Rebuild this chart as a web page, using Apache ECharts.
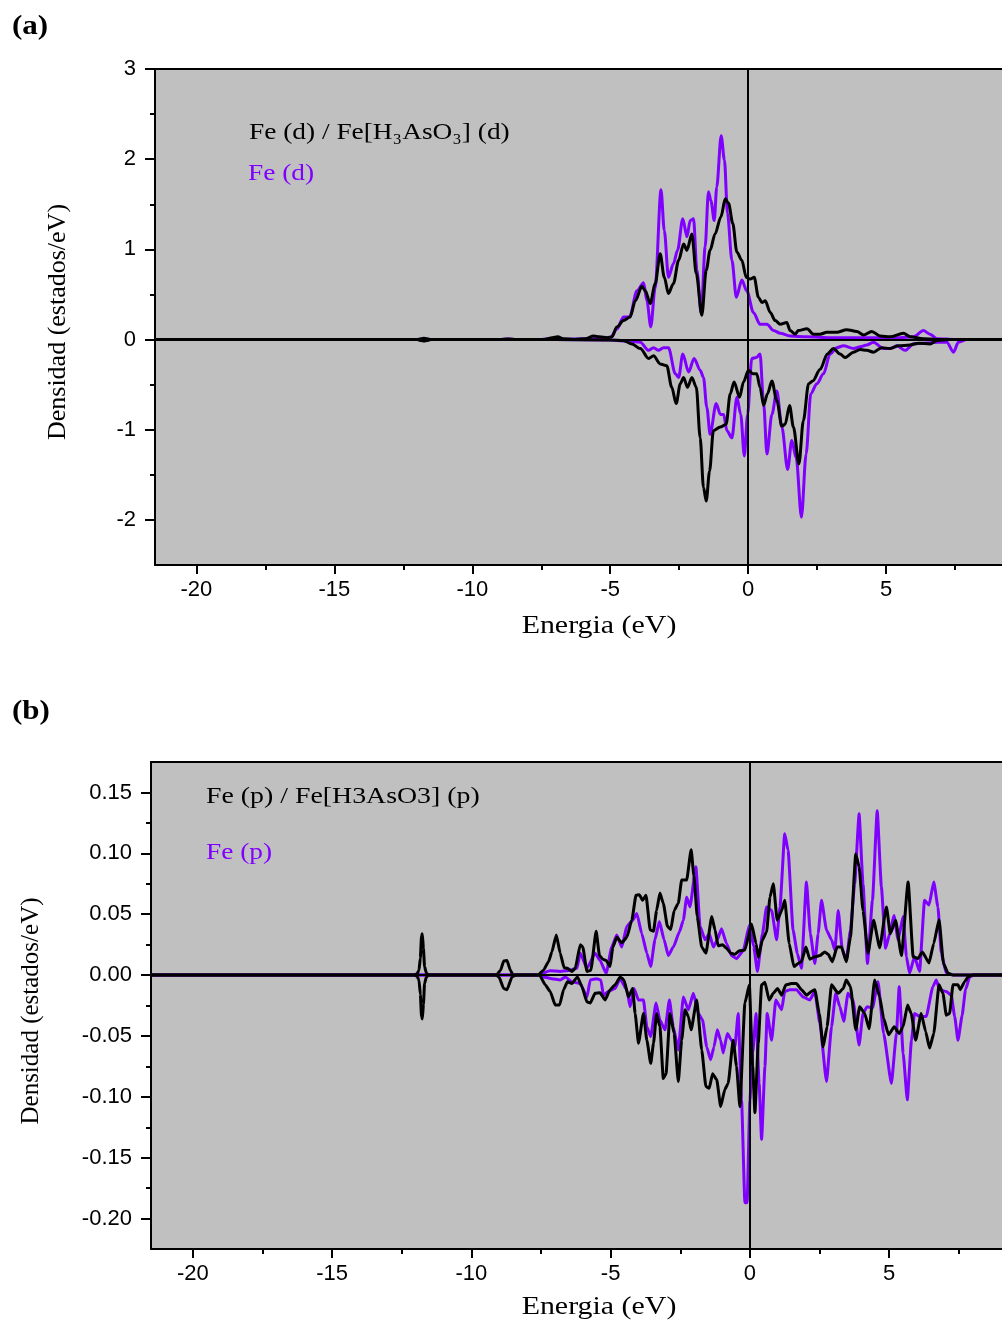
<!DOCTYPE html>
<html>
<head>
<meta charset="utf-8">
<script src="https://cdn.jsdelivr.net/npm/echarts@6/dist/echarts.min.js"></script>
<style>
html,body{margin:0;padding:0;background:#fff;}
#chart{width:1002px;height:1324px;}
</style>
</head>
<body>
<div id="chart"></div>
<script>
// ---------- Tick values ----------
const aXTicks = [-20, -15, -10, -5, 0, 5];
const aXMinor = [-17.5, -12.5, -7.5, -2.5, 2.5, 7.5];
const aYTicks = [-2, -1, 0, 1, 2, 3];
const aYMinor = [-1.5, -0.5, 0.5, 1.5, 2.5];
const bXTicks = [-20, -15, -10, -5, 0, 5];
const bXMinor = [-17.5, -12.5, -7.5, -2.5, 2.5, 7.5];
const bYTicks = [-0.2, -0.15, -0.1, -0.05, 0, 0.05, 0.1, 0.15];
const bYMinor = [-0.175, -0.125, -0.075, -0.025, 0.025, 0.075, 0.125];

// ---------- Panel (a): d states [E (eV), DOS] ----------
const aFeUp = [[-21.5,0],[-12,0],[-11.8,0.005],[-11.7,0.005],[-11.5,0],[-9,0],[-8.7,0.005],[-8.4,0],[-7.5,0],[-7.1,0.01],[-6.8,0],[-5.8,0.01],[-5.5,0.01],[-5.0,0.02],[-4.75,0.12],[-4.52,0.25],[-4.3,0.25],[-4.03,0.54],[-3.79,0.63],[-3.67,0.43],[-3.53,0.14],[-3.37,0.58],[-3.16,1.66],[-3.04,1.21],[-2.89,0.69],[-2.71,0.84],[-2.56,0.99],[-2.37,1.34],[-2.22,1.14],[-2.10,1.32],[-1.98,1.34],[-1.86,0.77],[-1.70,0.29],[-1.56,1.03],[-1.44,1.64],[-1.35,1.54],[-1.23,1.32],[-1.14,1.69],[-0.98,2.26],[-0.86,1.99],[-0.75,1.40],[-0.59,0.88],[-0.43,0.47],[-0.23,0.66],[-0.05,0.54],[0.19,0.30],[0.43,0.17],[0.68,0.17],[0.92,0.10],[1.16,0.07],[1.52,0.04],[2.13,0.03],[3,0.02],[4.5,0.02],[5.5,0.02],[6.0,0.03],[6.35,0.10],[6.59,0.06],[6.84,0.01],[7.5,0],[9.2,0]];
const aFeDown = [[-21.5,0],[-7,0],[-5,-0.005],[-4.28,-0.02],[-3.91,-0.03],[-3.61,-0.12],[-3.43,-0.09],[-3.25,-0.12],[-3.07,-0.09],[-2.89,-0.09],[-2.64,-0.38],[-2.52,-0.42],[-2.37,-0.16],[-2.16,-0.36],[-1.96,-0.21],[-1.74,-0.34],[-1.62,-0.42],[-1.50,-0.75],[-1.38,-1.05],[-1.16,-0.71],[-1.01,-0.83],[-0.89,-0.83],[-0.77,-1.01],[-0.59,-1.09],[-0.41,-0.64],[-0.27,-0.83],[-0.14,-1.29],[-0.02,-0.83],[0.13,-0.21],[0.29,-0.20],[0.43,-0.16],[0.56,-0.71],[0.68,-1.27],[0.86,-0.83],[1.04,-0.57],[1.22,-0.97],[1.43,-1.44],[1.58,-1.12],[1.74,-1.31],[1.93,-1.97],[2.10,-1.27],[2.27,-0.60],[2.49,-0.49],[2.73,-0.38],[2.97,-0.16],[3.21,-0.09],[3.45,-0.07],[3.82,-0.10],[4.06,-0.08],[4.30,-0.06],[4.54,-0.03],[4.90,-0.10],[5.14,-0.10],[5.39,-0.07],[5.69,-0.12],[5.99,-0.05],[6.35,-0.04],[6.84,-0.03],[7.20,-0.03],[7.44,-0.14],[7.62,-0.03],[7.92,0],[9.2,0]];
const aMolUp = [[-21.5,0],[-12,0],[-11.85,0.01],[-11.75,0.015],[-11.65,0.01],[-11.5,0],[-9,0],[-8.7,0.005],[-8.4,0],[-7.4,0],[-7.1,0.02],[-6.9,0.03],[-6.7,0.01],[-6.3,0],[-5.9,0.01],[-5.6,0.04],[-5.4,0.03],[-5.1,0.02],[-4.94,0.03],[-4.76,0.14],[-4.52,0.21],[-4.28,0.25],[-4.09,0.43],[-3.85,0.59],[-3.73,0.54],[-3.55,0.40],[-3.37,0.62],[-3.19,0.95],[-3.04,0.69],[-2.89,0.51],[-2.71,0.62],[-2.52,0.88],[-2.34,1.06],[-2.22,0.99],[-2.04,1.17],[-1.88,0.73],[-1.68,0.27],[-1.52,0.77],[-1.38,0.99],[-1.20,1.17],[-0.99,1.36],[-0.83,1.56],[-0.71,1.51],[-0.56,1.29],[-0.41,0.97],[-0.23,0.88],[-0.07,0.69],[0.07,0.67],[0.22,0.69],[0.37,0.47],[0.50,0.41],[0.62,0.43],[0.80,0.30],[0.98,0.21],[1.16,0.17],[1.40,0.19],[1.52,0.10],[1.70,0.06],[1.82,0.10],[2.13,0.12],[2.37,0.06],[2.61,0.06],[2.85,0.08],[3.21,0.08],[3.57,0.11],[3.94,0.09],[4.18,0.05],[4.48,0.09],[4.78,0.04],[5.14,0.03],[5.63,0.07],[5.87,0.03],[6.35,0.01],[6.8,0],[9.2,0]];
const aMolDown = [[-21.5,0],[-12,0],[-11.85,-0.01],[-11.75,-0.015],[-11.65,-0.01],[-11.5,0],[-7,0],[-5,-0.005],[-4.52,-0.01],[-4.21,-0.05],[-3.91,-0.10],[-3.61,-0.21],[-3.43,-0.18],[-3.19,-0.27],[-2.95,-0.29],[-2.77,-0.53],[-2.61,-0.71],[-2.46,-0.49],[-2.34,-0.42],[-2.20,-0.53],[-2.04,-0.42],[-1.88,-0.53],[-1.74,-1.09],[-1.62,-1.64],[-1.52,-1.79],[-1.40,-1.46],[-1.26,-1.01],[-1.01,-0.97],[-0.80,-0.94],[-0.65,-0.60],[-0.51,-0.47],[-0.31,-0.64],[-0.17,-0.47],[0.01,-0.34],[0.17,-0.38],[0.31,-0.38],[0.43,-0.53],[0.56,-0.73],[0.70,-0.60],[0.86,-0.46],[1.04,-0.68],[1.22,-0.96],[1.34,-0.94],[1.50,-0.73],[1.64,-0.97],[1.84,-1.38],[2.00,-0.90],[2.19,-0.49],[2.34,-0.46],[2.61,-0.33],[2.87,-0.16],[3.09,-0.10],[3.33,-0.16],[3.51,-0.20],[3.82,-0.14],[4.06,-0.11],[4.30,-0.12],[4.54,-0.14],[4.84,-0.09],[5.14,-0.10],[5.45,-0.07],[5.87,-0.06],[6.17,-0.04],[6.59,-0.05],[6.84,-0.01],[7.3,0],[9.2,0]];

// ---------- Panel (b): p states [E (eV), DOS] ----------
const bFeUp = [[-21.5,0],[-7.6,0],[-7.53,0.001],[-7.17,0.0035],[-6.81,0.003],[-6.57,0.0035],[-6.21,0.0055],[-6.09,0.018],[-5.85,0.0055],[-5.56,0.018],[-5.38,0.012],[-5.16,0.0015],[-4.96,0.023],[-4.78,0.033],[-4.60,0.023],[-4.42,0.040],[-4.21,0.045],[-4.06,0.0505],[-3.88,0.034],[-3.70,0.018],[-3.56,0.007],[-3.41,0.029],[-3.25,0.044],[-3.08,0.029],[-2.93,0.016],[-2.75,0.023],[-2.53,0.0355],[-2.39,0.045],[-2.27,0.064],[-2.15,0.056],[-1.94,0.089],[-1.79,0.040],[-1.61,0.029],[-1.46,0.034],[-1.31,0.023],[-1.17,0.029],[-1.02,0.038],[-0.84,0.026],[-0.66,0.016],[-0.48,0.0135],[-0.24,0.020],[-0.02,0.041],[0.14,0.023],[0.27,0.003],[0.45,0.034],[0.60,0.056],[0.78,0.053],[0.96,0.029],[1.08,0.056],[1.25,0.116],[1.37,0.1025],[1.55,0.037],[1.70,0.018],[1.85,0.0055],[2.03,0.0765],[2.17,0.034],[2.33,0.0095],[2.45,0.034],[2.57,0.0615],[2.75,0.037],[2.93,0.029],[3.05,0.0205],[3.17,0.053],[3.32,0.0205],[3.46,0.012],[3.61,0.037],[3.76,0.075],[3.92,0.1325],[4.06,0.075],[4.22,0.0095],[4.40,0.0615],[4.57,0.135],[4.72,0.0725],[4.87,0.022],[5.02,0.034],[5.17,0.049],[5.32,0.029],[5.50,0.048],[5.62,0.015],[5.73,0.0015],[5.91,0.015],[6.09,0.003],[6.27,0.0615],[6.43,0.0575],[6.60,0.0765],[6.75,0.056],[6.87,0.018],[7.05,0.0015],[7.29,0],[9.05,0]];
const bFeDown = [[-21.5,0],[-7.6,0],[-7.41,-0.0015],[-7.11,-0.003],[-6.81,-0.004],[-6.63,-0.0015],[-6.39,-0.0055],[-6.09,-0.007],[-5.85,-0.018],[-5.73,-0.004],[-5.50,-0.003],[-5.35,-0.004],[-5.26,-0.0165],[-5.08,-0.0135],[-4.84,-0.011],[-4.66,-0.003],[-4.42,-0.012],[-4.30,-0.026],[-4.16,-0.011],[-4.00,-0.0205],[-3.82,-0.0205],[-3.70,-0.0425],[-3.56,-0.0505],[-3.37,-0.023],[-3.23,-0.037],[-3.05,-0.045],[-2.89,-0.0205],[-2.75,-0.0425],[-2.57,-0.0615],[-2.39,-0.018],[-2.21,-0.0285],[-2.03,-0.015],[-1.85,-0.0315],[-1.70,-0.037],[-1.55,-0.059],[-1.41,-0.0695],[-1.29,-0.059],[-1.17,-0.045],[-1.05,-0.0535],[-0.96,-0.064],[-0.81,-0.048],[-0.66,-0.0535],[-0.54,-0.059],[-0.42,-0.0315],[-0.30,-0.1025],[-0.18,-0.187],[-0.10,-0.187],[0.00,-0.1025],[0.10,-0.064],[0.22,-0.0315],[0.33,-0.089],[0.42,-0.135],[0.54,-0.075],[0.62,-0.0315],[0.78,-0.0535],[0.93,-0.0205],[1.14,-0.0285],[1.25,-0.0135],[1.43,-0.012],[1.67,-0.012],[1.91,-0.018],[2.15,-0.0205],[2.33,-0.0135],[2.51,-0.0395],[2.75,-0.0875],[2.93,-0.0425],[3.08,-0.015],[3.23,-0.026],[3.37,-0.038],[3.52,-0.015],[3.70,-0.0205],[3.92,-0.0575],[4.06,-0.0315],[4.21,-0.026],[4.40,-0.027],[4.60,-0.0055],[4.80,-0.048],[5.08,-0.089],[5.26,-0.048],[5.36,-0.0095],[5.50,-0.064],[5.65,-0.1025],[5.80,-0.0535],[5.91,-0.0315],[6.09,-0.034],[6.33,-0.034],[6.57,-0.0095],[6.69,-0.004],[6.81,-0.012],[7.05,-0.0135],[7.23,-0.0165],[7.35,-0.034],[7.47,-0.0535],[7.62,-0.033],[7.74,-0.012],[7.89,-0.0015],[8.05,0],[9.05,0]];
const bMolUp = [[-21.5,0],[-12.05,0],[-11.95,0.001],[-11.88,0.004],[-11.83,0.014],[-11.79,0.032],[-11.76,0.034],[-11.72,0.022],[-11.68,0.007],[-11.62,0.002],[-11.55,0],[-9.1,0],[-8.95,0.004],[-8.84,0.0115],[-8.72,0.012],[-8.6,0.004],[-8.5,0],[-7.6,0],[-7.41,0.004],[-7.23,0.011],[-7.11,0.019],[-6.95,0.033],[-6.81,0.018],[-6.67,0.006],[-6.55,0.0055],[-6.39,0.003],[-6.27,0.0055],[-6.09,0.025],[-6.00,0.023],[-5.85,0.003],[-5.71,0.004],[-5.52,0.036],[-5.40,0.016],[-5.28,0.013],[-5.16,0.012],[-5.02,0.007],[-4.92,0.023],[-4.78,0.031],[-4.60,0.0265],[-4.42,0.031],[-4.24,0.045],[-4.09,0.0655],[-3.97,0.066],[-3.85,0.0615],[-3.73,0.0655],[-3.58,0.037],[-3.46,0.036],[-3.35,0.053],[-3.23,0.0675],[-3.11,0.059],[-2.96,0.040],[-2.84,0.0375],[-2.72,0.053],[-2.57,0.059],[-2.45,0.078],[-2.27,0.078],[-2.11,0.103],[-2.01,0.0815],[-1.89,0.048],[-1.73,0.023],[-1.58,0.018],[-1.37,0.048],[-1.25,0.037],[-1.14,0.024],[-0.98,0.025],[-0.84,0.022],[-0.69,0.018],[-0.54,0.017],[-0.38,0.020],[-0.18,0.0205],[0.06,0.042],[0.22,0.026],[0.30,0.0145],[0.45,0.029],[0.60,0.0355],[0.72,0.064],[0.84,0.075],[0.98,0.045],[1.14,0.053],[1.25,0.0615],[1.41,0.026],[1.58,0.007],[1.73,0.0095],[1.85,0.011],[2.01,0.023],[2.15,0.013],[2.33,0.015],[2.51,0.016],[2.69,0.019],[2.81,0.017],[2.96,0.011],[3.13,0.023],[3.29,0.023],[3.46,0.011],[3.61,0.031],[3.80,0.0995],[3.92,0.089],[4.06,0.053],[4.24,0.018],[4.44,0.045],[4.66,0.0225],[4.90,0.056],[5.04,0.034],[5.23,0.045],[5.44,0.016],[5.68,0.0765],[5.86,0.015],[6.03,0.0135],[6.19,0.019],[6.43,0.010],[6.60,0.026],[6.79,0.0455],[6.95,0.0095],[7.11,0.0015],[7.29,0],[9.05,0]];
const bMolDown = [[-21.5,0],[-12.05,0],[-11.95,-0.001],[-11.88,-0.004],[-11.83,-0.016],[-11.79,-0.034],[-11.76,-0.036],[-11.72,-0.024],[-11.68,-0.007],[-11.62,-0.002],[-11.55,0],[-9.1,0],[-9.0,-0.002],[-8.84,-0.011],[-8.72,-0.012],[-8.54,-0.0015],[-8.4,0],[-7.55,0],[-7.35,-0.008],[-7.17,-0.0135],[-6.99,-0.0245],[-6.83,-0.0245],[-6.69,-0.012],[-6.55,-0.0055],[-6.39,-0.007],[-6.19,-0.0015],[-6.03,-0.0095],[-5.85,-0.022],[-5.73,-0.023],[-5.56,-0.015],[-5.38,-0.0145],[-5.20,-0.0205],[-5.02,-0.012],[-4.84,-0.008],[-4.66,-0.0015],[-4.52,-0.004],[-4.36,-0.018],[-4.21,-0.011],[-4.12,-0.0315],[-4.00,-0.056],[-3.82,-0.0315],[-3.70,-0.0535],[-3.56,-0.0725],[-3.46,-0.056],[-3.35,-0.0315],[-3.23,-0.0425],[-3.11,-0.085],[-3.01,-0.081],[-2.87,-0.0315],[-2.72,-0.048],[-2.57,-0.0875],[-2.45,-0.0535],[-2.33,-0.0285],[-2.21,-0.034],[-2.11,-0.045],[-1.91,-0.0205],[-1.73,-0.0615],[-1.58,-0.0915],[-1.46,-0.093],[-1.34,-0.081],[-1.19,-0.086],[-1.05,-0.108],[-0.90,-0.094],[-0.78,-0.089],[-0.60,-0.0535],[-0.48,-0.075],[-0.36,-0.108],[-0.18,-0.023],[-0.02,-0.008],[0.10,-0.075],[0.18,-0.113],[0.30,-0.056],[0.42,-0.008],[0.54,-0.006],[0.69,-0.0205],[0.84,-0.015],[0.99,-0.011],[1.14,-0.0165],[1.29,-0.008],[1.49,-0.007],[1.67,-0.007],[1.85,-0.012],[2.03,-0.0165],[2.21,-0.0135],[2.33,-0.012],[2.49,-0.0315],[2.63,-0.059],[2.77,-0.0425],[2.93,-0.008],[3.17,-0.015],[3.35,-0.011],[3.46,-0.004],[3.61,-0.0095],[3.80,-0.045],[3.94,-0.026],[4.12,-0.0315],[4.28,-0.044],[4.48,-0.004],[4.66,-0.018],[4.80,-0.0355],[4.98,-0.049],[5.18,-0.0425],[5.36,-0.048],[5.50,-0.0425],[5.66,-0.0245],[5.79,-0.0315],[5.95,-0.0535],[6.15,-0.0315],[6.31,-0.0465],[6.45,-0.060],[6.60,-0.048],[6.79,-0.008],[6.93,-0.015],[7.05,-0.033],[7.17,-0.0315],[7.29,-0.008],[7.47,-0.008],[7.55,-0.012],[7.71,-0.0055],[7.83,-0.0015],[8.0,0],[9.05,0]];

// ---------- Styling constants ----------
const PURPLE = '#8000ff';
const BLACK = '#000000';
const SANS = '"Liberation Sans", Arial, sans-serif';
const SERIF = '"Liberation Serif", "Times New Roman", serif';
const LW = 3;

function xAxes(gridIndex, min, max, ticks, minor) {
  return [
    { type: 'value', gridIndex, min, max, position: 'bottom',
      axisLine: { show: true, onZero: false, lineStyle: { color: BLACK, width: 2 } },
      axisTick: { show: true, inside: false, length: 9, lineStyle: { color: BLACK, width: 2 }, customValues: ticks },
      axisLabel: { show: true, customValues: ticks, margin: 14, color: BLACK, fontSize: 22, fontFamily: SANS },
      splitLine: { show: false } },
    { type: 'value', gridIndex, min, max, position: 'bottom',
      axisLine: { show: false, onZero: false },
      axisTick: { show: true, inside: false, length: 5, lineStyle: { color: BLACK, width: 2 }, customValues: minor },
      axisLabel: { show: false }, splitLine: { show: false } },
    { type: 'value', gridIndex, min, max, position: 'top',
      axisLine: { show: true, onZero: false, lineStyle: { color: BLACK, width: 2 } },
      axisTick: { show: false }, axisLabel: { show: false }, splitLine: { show: false } }
  ];
}
function yAxes(gridIndex, min, max, ticks, minor, fmt) {
  return [
    { type: 'value', gridIndex, min, max, position: 'left',
      axisLine: { show: true, onZero: false, lineStyle: { color: BLACK, width: 2 } },
      axisTick: { show: true, inside: false, length: 10, lineStyle: { color: BLACK, width: 2 }, customValues: ticks },
      axisLabel: { show: true, customValues: ticks, margin: 19, color: BLACK, fontSize: 22, fontFamily: SANS, formatter: fmt },
      splitLine: { show: false } },
    { type: 'value', gridIndex, min, max, position: 'left',
      axisLine: { show: false, onZero: false },
      axisTick: { show: true, inside: false, length: 5, lineStyle: { color: BLACK, width: 2 }, customValues: minor },
      axisLabel: { show: false }, splitLine: { show: false } }
  ];
}
function lineSeries(xi, yi, data, color, smooth, z) {
  return { type: 'line', xAxisIndex: xi, yAxisIndex: yi, data, showSymbol: false, symbol: 'none',
    smooth, smoothMonotone: 'x', clip: true, z,
    lineStyle: { color, width: LW }, itemStyle: { color }, silent: true };
}
function zeroLines() {
  return { silent: true, symbol: 'none', animation: false, label: { show: false },
    lineStyle: { color: BLACK, width: 2, type: 'solid' },
    data: [{ xAxis: 0 }, { yAxis: 0 }] };
}

const sA = [
  lineSeries(0, 0, aFeUp, PURPLE, 0.3, 2),
  lineSeries(0, 0, aFeDown, PURPLE, 0.3, 2),
  lineSeries(0, 0, aMolUp, BLACK, 0.3, 3),
  lineSeries(0, 0, aMolDown, BLACK, 0.3, 3)
];
sA[3].markLine = zeroLines();
const sB = [
  lineSeries(3, 2, bFeUp, PURPLE, 0.15, 2),
  lineSeries(3, 2, bFeDown, PURPLE, 0.15, 2),
  lineSeries(3, 2, bMolUp, BLACK, 0.15, 3),
  lineSeries(3, 2, bMolDown, BLACK, 0.15, 3)
];
sB[3].markLine = zeroLines();

const txt = (text, x, y, opts, sx) => ({ type: 'text', x, y, silent: true, scaleX: sx || 1,
  style: Object.assign({ text, fill: BLACK, font: '24px ' + SERIF, textVerticalAlign: 'middle' }, opts || {}) });

const option = {
  animation: false,
  backgroundColor: '#ffffff',
  grid: [
    { left: 155, top: 69, width: 847, height: 496, show: true, backgroundColor: '#c0c0c0', borderWidth: 0 },
    { left: 151, top: 762, width: 851, height: 487, show: true, backgroundColor: '#c0c0c0', borderWidth: 0 }
  ],
  xAxis: [].concat(xAxes(0, -21.5, 9.2, aXTicks, aXMinor), xAxes(1, -21.5, 9.05, bXTicks, bXMinor)),
  yAxis: [].concat(yAxes(0, -2.5, 3, aYTicks, aYMinor, v => String(Math.round(v))),
                   yAxes(1, -0.225, 0.175, bYTicks, bYMinor, v => v.toFixed(2))),
  series: sA.concat(sB),
  graphic: [
    txt('(a)', 12, 27, { font: 'bold 27px ' + SERIF }, 1.15),
    txt('(b)', 12, 712, { font: 'bold 27px ' + SERIF }, 1.15),
    txt('Fe (d) / Fe[H\u2083AsO\u2083] (d)', 249, 133, { font: '24px ' + SERIF }, 1.14),
    txt('Fe (d)', 248, 174, { font: '24px ' + SERIF, fill: PURPLE }, 1.14),
    txt('Fe (p) / Fe[H3AsO3] (p)', 206, 797, { font: '24px ' + SERIF }, 1.16),
    txt('Fe (p)', 206, 853, { font: '24px ' + SERIF, fill: PURPLE }, 1.14),
    txt('Energia (eV)', 599, 626, { font: '26px ' + SERIF, textAlign: 'center' }, 1.15),
    txt('Energia (eV)', 599, 1307, { font: '26px ' + SERIF, textAlign: 'center' }, 1.15),
    Object.assign(txt('Densidad (estados/eV)', 58, 322, { font: '26px ' + SERIF, textAlign: 'center' }), { rotation: Math.PI / 2 }),
    Object.assign(txt('Densidad (estados/eV)', 31, 1011, { font: '25px ' + SERIF, textAlign: 'center' }), { rotation: Math.PI / 2 })
  ]
};

const chart = echarts.init(document.getElementById('chart'), null, { renderer: 'canvas' });
chart.setOption(option);
</script>
</body>
</html>
